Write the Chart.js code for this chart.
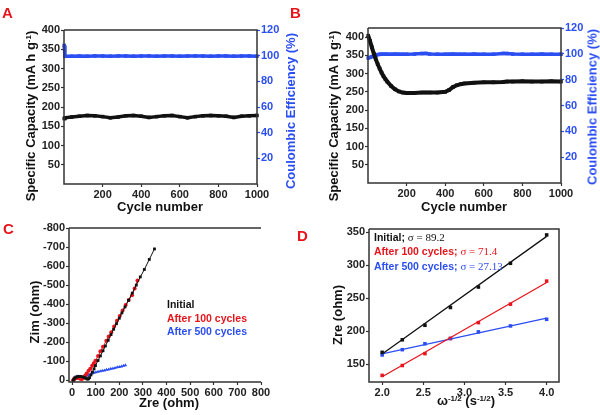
<!DOCTYPE html>
<html>
<head>
<meta charset="utf-8">
<script src="https://cdn.jsdelivr.net/npm/chart.js@4/dist/chart.umd.min.js"></script>
<style>
  body{margin:0;background:#fff;}
  #wrap{position:relative;width:600px;height:415px;background:#fff;overflow:hidden;font-family:"Liberation Sans",Arial,sans-serif;}
  canvas{position:absolute;}
  .t{position:absolute;white-space:nowrap;font-weight:bold;color:#111;line-height:1;}
  .rot{transform:translate(-50%,-50%) rotate(-90deg);}
  .hc{transform:translate(-50%,-50%);}
  .letter{position:absolute;font-weight:bold;color:#e8141c;font-size:15px;line-height:1;}
  sup{font-size:8px;vertical-align:4px;line-height:0;}
  .lg{position:absolute;white-space:nowrap;font-weight:bold;font-size:10.5px;line-height:1;transform:translateY(-50%);}
  .sg{font-family:"Liberation Serif","DejaVu Serif",serif;font-weight:normal;font-size:11px;}
</style>
</head>
<body>
<div id="wrap">
  <canvas id="cA" width="300" height="210" style="left:0;top:0;width:300px;height:210px"></canvas>
  <canvas id="cB" width="300" height="210" style="left:300px;top:0;width:300px;height:210px"></canvas>
  <canvas id="cC" width="300" height="205" style="left:0;top:210px;width:300px;height:205px"></canvas>
  <canvas id="cD" width="300" height="205" style="left:300px;top:210px;width:300px;height:205px"></canvas>

  <div class="letter" style="left:2px;top:5px">A</div>
  <div class="letter" style="left:290px;top:5px">B</div>
  <div class="letter" style="left:3px;top:221px">C</div>
  <div class="letter" style="left:297px;top:228px">D</div>

  <div class="t rot" style="left:30px;top:116px;font-size:13px">Specific Capacity (mA h g<sup>-1</sup>)</div>
  <div class="t rot" style="left:290px;top:111px;font-size:13px;color:#2b4ef2">Coulombic Efficiency (%)</div>
  <div class="t hc" style="left:160px;top:206px;font-size:13px">Cycle number</div>

  <div class="t rot" style="left:333px;top:116px;font-size:13px">Specific Capacity (mA h g<sup>-1</sup>)</div>
  <div class="t rot" style="left:592px;top:107px;font-size:13px;color:#2b4ef2">Coulombic Efficiency (%)</div>
  <div class="t hc" style="left:464px;top:206px;font-size:13px">Cycle number</div>

  <div class="t rot" style="left:34px;top:312px;font-size:13px">Zim (ohm)</div>
  <div class="t hc" style="left:169px;top:402px;font-size:13px">Zre (ohm)</div>

  <div class="t rot" style="left:337px;top:315px;font-size:13px">Zre (ohm)</div>
  <div class="t hc" style="left:466px;top:400px;font-size:13px">ω<sup>-1/2</sup> (s<sup>-1/2</sup>)</div>

  <div class="lg" style="left:167px;top:304px;color:#111">Initial</div>
  <div class="lg" style="left:167px;top:318px;color:#e8141c">After 100 cycles</div>
  <div class="lg" style="left:167px;top:331px;color:#2b4ef2">After 500 cycles</div>

  <div class="lg" style="left:374px;top:237px;color:#111">Initial; <span class="sg">σ = 89.2</span></div>
  <div class="lg" style="left:374px;top:251px;color:#e8141c">After 100 cycles; <span class="sg">σ = 71.4</span></div>
  <div class="lg" style="left:374px;top:266px;color:#2b4ef2">After 500 cycles; <span class="sg">σ = 27.13</span></div>
</div>
<script>
// ---------- Data ----------
// Panel A
const cyclesA = [1,5,40,80,120,160,200,240,280,320,360,400,440,480,520,560,600,640,680,720,760,800,840,880,920,960,1000];
const capA    = [170,172,174,176,178,177,175,172,174,177,178,176,173,175,177,178,175,172,175,177,178,177,176,173,176,177,178];
const ceA     = [108,99.5,99.6,99.7,99.6,99.8,99.7,99.6,99.7,99.7,99.6,99.7,99.8,99.6,99.7,99.7,99.6,99.7,99.8,99.7,99.6,99.7,99.7,99.6,99.7,99.7,99.6];
// Panel B
const cyclesB = [1,10,20,30,40,50,60,70,80,90,100,120,140,160,180,200,240,280,300,320,360,400,420,440,460,480,500,550,600,650,700,720,750,800,850,900,950,1000];
const capB    = [404,390,372,355,340,326,314,303,293,285,278,266,257,251,248,247,247,248,248,248,248,250,255,263,268,271,273,275,276,276,277,278,278,279,278,278,279,278];
const ceB     = [96.8,97.2,97.8,98.5,99.0,99.4,99.6,99.7,99.7,99.7,99.7,99.7,99.8,99.7,99.7,99.7,99.8,100.2,100.3,99.8,99.7,99.7,99.7,99.8,99.7,99.7,99.7,99.8,99.7,99.7,100.3,100.2,99.8,99.7,99.7,99.8,99.7,99.7];
// Panel C (Nyquist; -Zim plotted upward)
const zreInit = [5,8,12,17,23,30,37,44,51,57,62,66,70,74,80,86,93,99,110,120,131,141,153,165,176,188,200,211,224,239,255,272,289,306,327,349];
const zimInit = [0,6,12,16,19,20,20,18,15,11,8,6,8,14,28,43,60,77,104,128,155,180,210,240,268,297,326,354,385,420,458,500,543,582,635,690];
const zre100  = [5,8,12,17,22,28,33,38,42,47,52,56,62,70,77,85,92,99,110,120,131,145,155,166,178,190,202,214,227,240,254,265,277];
const zim100  = [0,5,9,12,13,12,10,7,7,12,18,25,36,50,60,76,89,103,127,152,176,208,230,252,282,313,338,366,395,422,447,482,524];
const zre500  = [3,5,8,12,17,22,28,34,40,46,52,58,64,70,77,85,93,101,110,119,128,137,146,155,164,173,182,191,200,209,218,226];
const zim500  = [0,7,12,16,19,20,20,19,17,15,16,19,24,28,32,36,39,42,45,47,50,52,55,57,60,62,65,68,70,73,76,79];
// Panel D
const omegaD  = [2.0,2.245,2.52,2.83,3.17,3.56,4.0];
const zreDInit= [168,187,209,236,267,303,346];
const zreD100 = [133,148,166,189,213,241,276];
const zreD500 = [164,172,181,189,199,208,218];
const fitX    = [2.0,4.0];
const fitInit = [165.4,343.8];
const fit100  = [131.0,273.8];
const fit500  = [165.5,219.8];

// Tick values
const ticksCycle = [200,400,600,800,1000];
const ticksCapA  = [50,100,150,200,250,300,350,400];
const ticksCapB  = [50,100,150,200,250,300,350,400];
const ticksCE    = [20,40,60,80,100,120];
const ticksZreC  = [0,100,200,300,400,500,600,700,800];
const ticksZimC  = [0,100,200,300,400,500,600,700,800];
const ticksOmega = [2.0,2.5,3.0,3.5,4.0];
const ticksZreD  = [150,200,250,300,350];

// ---------- Styles ----------
const BLUE='#2b4ef2', RED='#e8141c', BLACK='#111';
Chart.defaults.font.family = '"Liberation Sans", Arial, sans-serif';
Chart.defaults.font.weight = 'bold';
Chart.defaults.font.size = 11;
Chart.defaults.color = '#222';

const pts = (xs, ys) => xs.map((x,i)=>({x:x,y:ys[i]}));

const frame = {
  id:'frame',
  afterDraw(chart, args, o){
    const {ctx, chartArea:a} = chart;
    ctx.save();
    ctx.strokeStyle = '#333';
    ctx.lineWidth = 1.5;
    ctx.beginPath();
    ctx.moveTo(a.left, a.top); ctx.lineTo(a.left, a.bottom); ctx.lineTo(a.right, a.bottom);
    if (o.right !== false) { ctx.lineTo(a.right, a.top); }
    else { ctx.moveTo(a.right, a.top); }
    if (o.top !== false) { ctx.lineTo(a.left, a.top); }
    ctx.stroke();
    ctx.restore();
  }
};

function setTicks(arr){ return s => { s.ticks = arr.map(v=>({value:v})); }; }

function xAxis(min,max,ticks,h,fmt){
  return {type:'linear', position:'bottom', min:min, max:max,
    afterBuildTicks:setTicks(ticks),
    ticks:{autoSkip:false, maxRotation:0, padding:1, color:'#222', callback:fmt},
    grid:{drawOnChartArea:false, tickLength:3, tickColor:'#333', tickWidth:1.2},
    border:{display:false},
    afterFit:s=>{s.height=h;}};
}
function yAxis(pos,min,max,ticks,w,fmt,color){
  return {type:'linear', position:pos, min:min, max:max,
    afterBuildTicks:setTicks(ticks),
    ticks:{autoSkip:false, padding:1, color:color||'#222', callback:fmt},
    grid:{drawOnChartArea:false, tickLength:3, tickColor:color||'#333', tickWidth:1.2},
    border:{display:false},
    afterFit:s=>{s.width=w;}};
}
const plain = v => String(v);

function series(data, color, opts){
  return Object.assign({data:data, borderColor:color, backgroundColor:color, showLine:true,
    borderWidth:1, pointStyle:'rect', pointRadius:2, pointBorderWidth:0, clip:false}, opts||{});
}

function make(id, datasets, scales, pad, frameOpts){
  new Chart(document.getElementById(id), {
    type:'scatter',
    data:{datasets:datasets},
    options:{responsive:false, animation:false, maintainAspectRatio:false,
      layout:{padding:pad},
      plugins:{legend:{display:false}, tooltip:{enabled:false}, frame:frameOpts||{}},
      scales:scales},
    plugins:[frame]
  });
}

// Panel A
make('cA', [
  series(pts(cyclesA,capA), BLACK, {borderWidth:3.5, pointRadius:2.5, yAxisID:'y'}),
  series(pts(cyclesA,ceA), BLUE, {borderWidth:3.5, pointRadius:2.5, yAxisID:'y2'})
], {
  x: xAxis(0,1000,ticksCycle,26,plain),
  y: yAxis('left',0,400,ticksCapA,64,plain),
  y2: yAxis('right',0,120,ticksCE,43,plain,BLUE)
}, {top:30,left:0,right:0,bottom:0});

// Panel B
make('cB', [
  series(pts(cyclesB,capB), BLACK, {borderWidth:4, pointRadius:2.5, yAxisID:'y'}),
  series(pts(cyclesB,ceB), BLUE, {borderWidth:3.5, pointRadius:2.5, yAxisID:'y2'})
], {
  x: xAxis(0,1000,ticksCycle,27,plain),
  y: yAxis('left',0,425,ticksCapB,68,plain),
  y2: yAxis('right',0,120,ticksCE,39,plain,BLUE)
}, {top:28,left:0,right:0,bottom:0});

// Panel C
make('cC', [
  series(pts(zreInit,zimInit), BLACK, {pointStyle:'rect', pointRadius:2}),
  series(pts(zre100,zim100), RED, {pointStyle:'circle', pointRadius:2}),
  series(pts(zre500,zim500), BLUE, {pointStyle:'triangle', pointRadius:2})
], {
  x: xAxis(-13,800,ticksZreC,33,plain),
  y: yAxis('left',-9,800,ticksZimC,69,v=> v===0 ? '0' : '-'+v)
}, {top:18,left:0,right:39,bottom:0}, {right:false});

// Panel D
make('cD', [
  series(pts(fitX,fitInit), BLACK, {pointRadius:0, borderWidth:1.3}),
  series(pts(fitX,fit100), RED, {pointRadius:0, borderWidth:1.3}),
  series(pts(fitX,fit500), BLUE, {pointRadius:0, borderWidth:1.3}),
  series(pts(omegaD,zreDInit), BLACK, {showLine:false, pointRadius:2.5}),
  series(pts(omegaD,zreD100), RED, {showLine:false, pointRadius:2.5}),
  series(pts(omegaD,zreD500), BLUE, {showLine:false, pointRadius:2.5})
], {
  x: xAxis(1.84,4.15,ticksOmega,33,v=>Number(v).toFixed(1)),
  y: yAxis('left',123,355,ticksZreD,69,plain)
}, {top:19,left:0,right:41,bottom:0});
</script>
</body>
</html>
